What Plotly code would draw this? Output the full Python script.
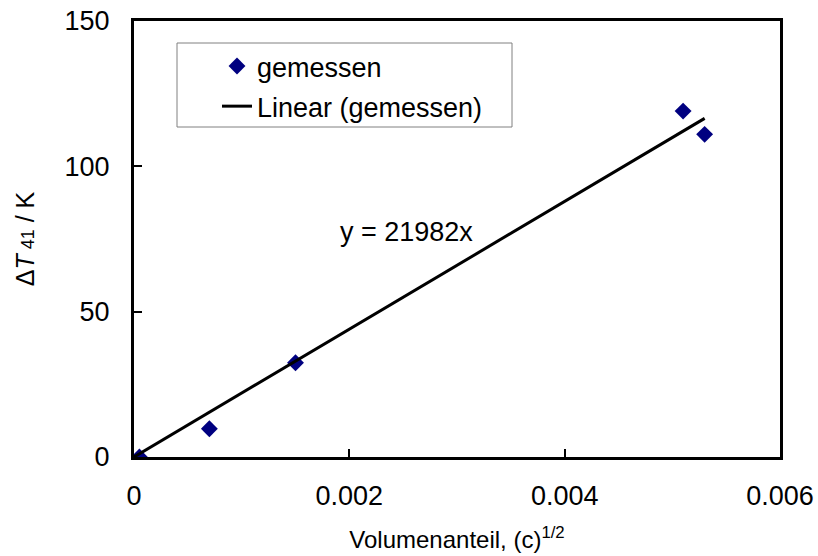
import plotly.graph_objects as go

# Measured temperature rise vs. square root of the volume fraction
x_meas = [0.00005, 0.0007, 0.0015, 0.0051, 0.0053]
y_meas = [0.0, 9.7, 32.4, 119.0, 111.0]

# Linear fit through the origin
slope = 21982
x_fit = [0.0, 0.0053]
y_fit = [slope * v for v in x_fit]

x_ticks = [0, 0.002, 0.004, 0.006]
x_ticktext = ["0", "0.002", "0.004", "0.006"]
y_ticks = [0, 50, 100, 150]
y_ticktext = ["0", "50", "100", "150"]

FONT = "Liberation Sans, Arial, sans-serif"

fig = go.Figure()
fig.add_trace(go.Scatter(
    x=x_meas, y=y_meas, mode="markers", name="gemessen",
    marker=dict(symbol="diamond", size=13, color="#000080"),
    legendgroup="a",
))
fig.add_trace(go.Scatter(
    x=x_fit, y=y_fit, mode="lines", name="Linear (gemessen)",
    line=dict(color="black", width=3),
    legendgroup="b",
))

fig.add_annotation(
    x=0.00253, y=77.5, xref="x", yref="y", showarrow=False,
    text=f"y = {slope}x", font=dict(size=27, color="black", family=FONT),
)

# Legend frame
L, R, T, B = 134, 780, 21, 457
def px_x(p):
    return (p - L) / (R - L)
def px_y(p):
    return (B - p) / (B - T)

fig.add_shape(type="rect", xref="paper", yref="paper",
              x0=px_x(177), x1=px_x(512), y0=px_y(127), y1=px_y(43),
              line=dict(color="#808080", width=1), fillcolor="white", layer="below")

fig.update_layout(
    width=818, height=556,
    margin=dict(l=L, r=818 - R, t=T, b=556 - B, autoexpand=False),
    paper_bgcolor="white", plot_bgcolor="white",
    font=dict(family=FONT, size=27, color="black"),
    showlegend=True,
    legend=dict(
        x=px_x(217), y=px_y(42), xanchor="left", yanchor="top",
        bgcolor="rgba(0,0,0,0)", borderwidth=0,
        font=dict(size=27, family=FONT),
        traceorder="grouped", tracegroupgap=2,
    ),
    xaxis=dict(
        range=[0, 0.006], tickvals=x_ticks, ticktext=x_ticktext,
        ticks="inside", ticklen=8, tickwidth=2, tickcolor="black",
        showline=True, linewidth=3, linecolor="black", mirror=True,
        showgrid=False, zeroline=False, ticklabelstandoff=13,
        tickfont=dict(size=27), automargin=False,
        title=dict(text="Volumenanteil, (c)<sup>1/2</sup>", font=dict(size=24), standoff=21),
    ),
    yaxis=dict(
        range=[0, 150], tickvals=y_ticks, ticktext=y_ticktext,
        ticks="inside", ticklen=8, tickwidth=2, tickcolor="black",
        showline=True, linewidth=3, linecolor="black", mirror=True,
        showgrid=False, zeroline=False, ticklabelstandoff=16,
        tickfont=dict(size=27), automargin=False,
        title=dict(text="Δ<i>T</i><span style='font-size:18px'> 41</span> / K", font=dict(size=25), standoff=23),
    ),
)

fig.write_html("out.html")
